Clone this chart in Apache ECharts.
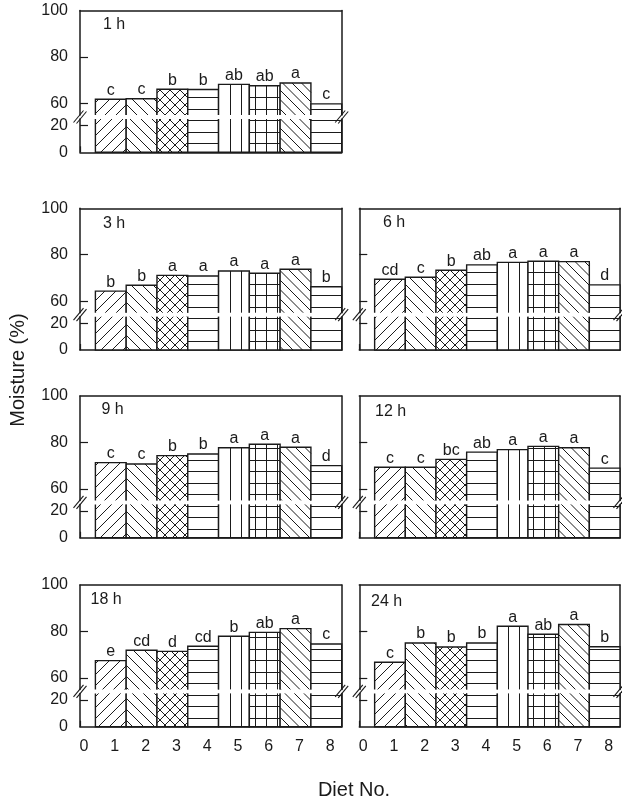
<!DOCTYPE html>
<html>
<head>
<meta charset="utf-8">
<script src="https://cdn.jsdelivr.net/npm/echarts@6/dist/echarts.min.js"></script>
<style>
html,body{margin:0;padding:0;background:#fff;}
#chart{width:622px;height:804px;}
</style>
</head>
<body>
<div id="chart"></div>
<script>
// ---------------- data ----------------
const diets = [1, 2, 3, 4, 5, 6, 7, 8];
const timeLabels = ['1 h', '3 h', '6 h', '9 h', '12 h', '18 h', '24 h'];

const moisture1h  = [61.8, 62.0, 66.1, 66.0, 68.2, 67.6, 68.8, 59.8];
const moisture3h  = [64.3, 66.8, 71.1, 70.8, 73.0, 72.0, 73.7, 66.2];
const moisture6h  = [69.4, 70.3, 73.3, 75.6, 76.7, 77.2, 77.0, 67.0];
const moisture9h  = [71.3, 70.7, 74.3, 75.0, 77.7, 79.2, 77.9, 70.0];
const moisture12h = [69.3, 69.3, 72.7, 75.8, 76.9, 78.3, 77.7, 68.9];
const moisture18h = [67.4, 71.9, 71.4, 73.6, 77.9, 79.6, 81.2, 74.6];
const moisture24h = [66.7, 75.0, 73.3, 75.0, 82.2, 78.8, 83.0, 73.4];

const letters1h  = ['c', 'c', 'b', 'b', 'ab', 'ab', 'a', 'c'];
const letters3h  = ['b', 'b', 'a', 'a', 'a', 'a', 'a', 'b'];
const letters6h  = ['cd', 'c', 'b', 'ab', 'a', 'a', 'a', 'd'];
const letters9h  = ['c', 'c', 'b', 'b', 'a', 'a', 'a', 'd'];
const letters12h = ['c', 'c', 'bc', 'ab', 'a', 'a', 'a', 'c'];
const letters18h = ['e', 'cd', 'd', 'cd', 'b', 'ab', 'a', 'c'];
const letters24h = ['c', 'b', 'b', 'b', 'a', 'ab', 'a', 'b'];

const xTickValues = [0, 1, 2, 3, 4, 5, 6, 7, 8];
const yUpperLabelValues = [60, 80, 100];
const yUpperTickValues = [60, 80];
const yLowerLabelValues = [0, 20];
const yLowerTickValues = [20];
const upperRange = [55, 100];
const lowerRange = [0, 25];
const xRange = [0, 8.5];

// ---------------- layout / style ----------------
const FONT = '"Liberation Sans", Arial, Helvetica, sans-serif';
const INK = '#1a1a1a';
const COL_LEFT = [80, 359.3];
const COL_W = [261.7, 260.7];
const ROW_TOP = [10.6, 208.3, 396, 585];
const UPPER_H = 104.4, GAP = 4, LOWER_H = 33.3;

const panels = [
  { label: timeLabels[0], vals: moisture1h,  lets: letters1h,  row: 0, col: 0, tx: 103, ty: 17 },
  { label: timeLabels[1], vals: moisture3h,  lets: letters3h,  row: 1, col: 0, tx: 103, ty: 215.5 },
  { label: timeLabels[2], vals: moisture6h,  lets: letters6h,  row: 1, col: 1, tx: 383, ty: 215 },
  { label: timeLabels[3], vals: moisture9h,  lets: letters9h,  row: 2, col: 0, tx: 101.5, ty: 402 },
  { label: timeLabels[4], vals: moisture12h, lets: letters12h, row: 2, col: 1, tx: 375, ty: 404 },
  { label: timeLabels[5], vals: moisture18h, lets: letters18h, row: 3, col: 0, tx: 90.5, ty: 591.5 },
  { label: timeLabels[6], vals: moisture24h, lets: letters24h, row: 3, col: 1, tx: 371, ty: 594 }
];

// hatch pattern for each diet (style)
const hatch = [
  { type: 'fwd', s: 11 },
  { type: 'back', s: 11 },
  { type: 'cross', s: 10 },
  { type: 'h', s: 11.5 },
  { type: 'v', s: 11, ox: 11 },
  { type: 'grid', sx: 11, ox: 5.3, sy: 11.5 },
  { type: 'back', s: 9.5 },
  { type: 'h', s: 11.5 }
];

function hatchSegments(spec, L, T, R, B, baseY) {
  const out = [];
  function horiz(s) {
    for (let k = 0; ; k++) {
      const yRaw = baseY - 9 - k * s;
      if (yRaw < T + 1) break;
      const y = Math.round(yRaw) + 0.5;
      if (y < B - 1) out.push([L, y, R, y]);
    }
  }
  function vert(s, ox) {
    for (let x = L + ox; x < R - 1.5; x += s) {
      const xx = Math.round(x) + 0.5;
      out.push([xx, T, xx, B]);
    }
  }
  function fwd(s) {
    for (let k = Math.ceil((L + T) / s); k * s <= R + B; k++) {
      const c = k * s;
      const xa = Math.max(L, c - B), xb = Math.min(R, c - T);
      if (xb - xa > 0.5) out.push([xa, c - xa, xb, c - xb]);
    }
  }
  function back(s) {
    for (let k = Math.ceil((T - R) / s); k * s <= B - L; k++) {
      const c = k * s;
      const xa = Math.max(L, T - c), xb = Math.min(R, B - c);
      if (xb - xa > 0.5) out.push([xa, xa + c, xb, xb + c]);
    }
  }
  switch (spec.type) {
    case 'h': horiz(spec.s); break;
    case 'v': vert(spec.s, spec.ox); break;
    case 'fwd': fwd(spec.s); break;
    case 'back': back(spec.s); break;
    case 'cross': fwd(spec.s); back(spec.s); break;
    case 'grid': vert(spec.sx, spec.ox); horiz(spec.sy); break;
  }
  return out;
}

function makeRender(lets, yMin, upper, baseY) {
  return function (params, api) {
    const i = params.dataIndex;
    const xv = api.value(0), v = api.value(1);
    const cs = params.coordSys;
    const a = api.coord([xv - 0.5, v]);
    const b = api.coord([xv + 0.5, yMin]);
    const L = a[0], R = b[0], B = b[1];
    const rawT = a[1];
    const T = Math.max(rawT, cs.y);
    const children = [];
    children.push({ type: 'rect', shape: { x: L, y: T, width: R - L, height: B - T }, style: { fill: '#fff' } });
    hatchSegments(hatch[i], L, T, R, B, baseY).forEach(function (sg) {
      children.push({ type: 'line', shape: { x1: sg[0], y1: sg[1], x2: sg[2], y2: sg[3] }, style: { stroke: INK, lineWidth: 1 } });
    });
    if (upper) {
      children.push({ type: 'polyline', shape: { points: [[L, B], [L, T], [R, T], [R, B]] }, style: { stroke: INK, lineWidth: 1.4, fill: null } });
      children.push({
        type: 'text', x: (L + R) / 2, y: rawT - 1,
        style: { text: lets[i], font: '16px ' + FONT, fill: INK, align: 'center', verticalAlign: 'bottom', textAlign: 'center', textVerticalAlign: 'bottom' }
      });
    } else {
      children.push({ type: 'polyline', shape: { points: [[L, T], [L, B], [R, B], [R, T]] }, style: { stroke: INK, lineWidth: 1.4, fill: null } });
    }
    return { type: 'group', children: children };
  };
}

const axisLineStyle = { color: INK, width: 1.5 };
const labelStyle = { fontSize: 16, fontFamily: FONT, color: INK };

const grid = [], xAxis = [], yAxis = [], series = [], title = [], graphic = [];

panels.forEach(function (p) {
  const left = COL_LEFT[p.col], width = COL_W[p.col], top = ROW_TOP[p.row];
  const baseY = top + UPPER_H + GAP + LOWER_H;
  const gU = grid.length;
  grid.push({ left: left, top: top, width: width, height: UPPER_H });
  const gL = grid.length;
  grid.push({ left: left, top: top + UPPER_H + GAP, width: width, height: LOWER_H });

  const xU = xAxis.length;
  xAxis.push({
    gridIndex: gU, type: 'value', min: xRange[0], max: xRange[1], position: 'top',
    axisLine: { show: true, onZero: false, lineStyle: axisLineStyle },
    axisTick: { show: false }, axisLabel: { show: false }, splitLine: { show: false }
  });
  const xL = xAxis.length;
  xAxis.push({
    gridIndex: gL, type: 'value', min: xRange[0], max: xRange[1], position: 'bottom',
    axisLine: { show: true, onZero: false, lineStyle: axisLineStyle },
    axisTick: { show: true, inside: true, length: 6, customValues: xTickValues, lineStyle: { color: INK, width: 1.2 } },
    axisLabel: Object.assign({ show: p.row === 3, customValues: xTickValues, margin: 12, padding: [0, 0, 0, 8] }, labelStyle),
    splitLine: { show: false }
  });

  const yU = yAxis.length;
  yAxis.push({
    gridIndex: gU, type: 'value', min: upperRange[0], max: upperRange[1], position: 'left',
    axisLine: { show: true, onZero: false, lineStyle: axisLineStyle },
    axisTick: { show: true, inside: true, length: 8, customValues: yUpperTickValues, lineStyle: { color: INK, width: 1.2 } },
    axisLabel: Object.assign({ show: p.col === 0, customValues: yUpperLabelValues, margin: 12 }, labelStyle),
    splitLine: { show: false }
  });
  yAxis.push({
    gridIndex: gU, type: 'value', min: upperRange[0], max: upperRange[1], position: 'right',
    axisLine: { show: true, onZero: false, lineStyle: axisLineStyle },
    axisTick: { show: false }, axisLabel: { show: false }, splitLine: { show: false }
  });
  const yL = yAxis.length;
  yAxis.push({
    gridIndex: gL, type: 'value', min: lowerRange[0], max: lowerRange[1], position: 'left',
    axisLine: { show: true, onZero: false, lineStyle: axisLineStyle },
    axisTick: { show: true, inside: true, length: 8, customValues: yLowerTickValues, lineStyle: { color: INK, width: 1.2 } },
    axisLabel: Object.assign({ show: p.col === 0, customValues: yLowerLabelValues, margin: 12 }, labelStyle),
    splitLine: { show: false }
  });
  yAxis.push({
    gridIndex: gL, type: 'value', min: lowerRange[0], max: lowerRange[1], position: 'right',
    axisLine: { show: true, onZero: false, lineStyle: axisLineStyle },
    axisTick: { show: false }, axisLabel: { show: false }, splitLine: { show: false }
  });

  const data = diets.map(function (d, i) { return [d, p.vals[i]]; });
  series.push({
    type: 'custom', name: p.label + ' upper', xAxisIndex: xU, yAxisIndex: yU,
    encode: { x: 0, y: 1 }, data: data, z: 2,
    renderItem: makeRender(p.lets, upperRange[0], true, baseY)
  });
  series.push({
    type: 'custom', name: p.label + ' lower', xAxisIndex: xL, yAxisIndex: yL,
    encode: { x: 0, y: 1 }, data: data, z: 2,
    renderItem: makeRender(p.lets, lowerRange[0], false, baseY)
  });

  title.push({
    text: p.label, left: p.tx, top: p.ty, padding: 0,
    textStyle: { fontSize: 16, fontWeight: 'normal', color: INK, fontFamily: FONT }
  });

  // axis break marks
  const yc = top + UPPER_H + GAP / 2;
  [left, left + width].forEach(function (x) {
    graphic.push({ type: 'line', z: 100, shape: { x1: x - 6.5, y1: yc + 5.5, x2: x + 3.5, y2: yc - 6.5 }, style: { stroke: INK, lineWidth: 1.1 } });
    graphic.push({ type: 'line', z: 100, shape: { x1: x - 3.5, y1: yc + 6.5, x2: x + 6.5, y2: yc - 5.5 }, style: { stroke: INK, lineWidth: 1.1 } });
  });
});

graphic.push({
  type: 'text', x: 18.5, y: 370, rotation: Math.PI / 2, z: 100,
  style: { text: 'Moisture (%)', font: '20px ' + FONT, fill: INK, align: 'center', verticalAlign: 'middle', textAlign: 'center', textVerticalAlign: 'middle' }
});
graphic.push({
  type: 'text', x: 354, y: 790, z: 100,
  style: { text: 'Diet No.', font: '20px ' + FONT, fill: INK, align: 'center', verticalAlign: 'middle', textAlign: 'center', textVerticalAlign: 'middle' }
});

const chart = echarts.init(document.getElementById('chart'), null, { renderer: 'canvas' });
chart.setOption({
  animation: false,
  backgroundColor: '#fff',
  title: title,
  grid: grid,
  xAxis: xAxis,
  yAxis: yAxis,
  series: series,
  graphic: graphic
});
</script>
</body>
</html>
